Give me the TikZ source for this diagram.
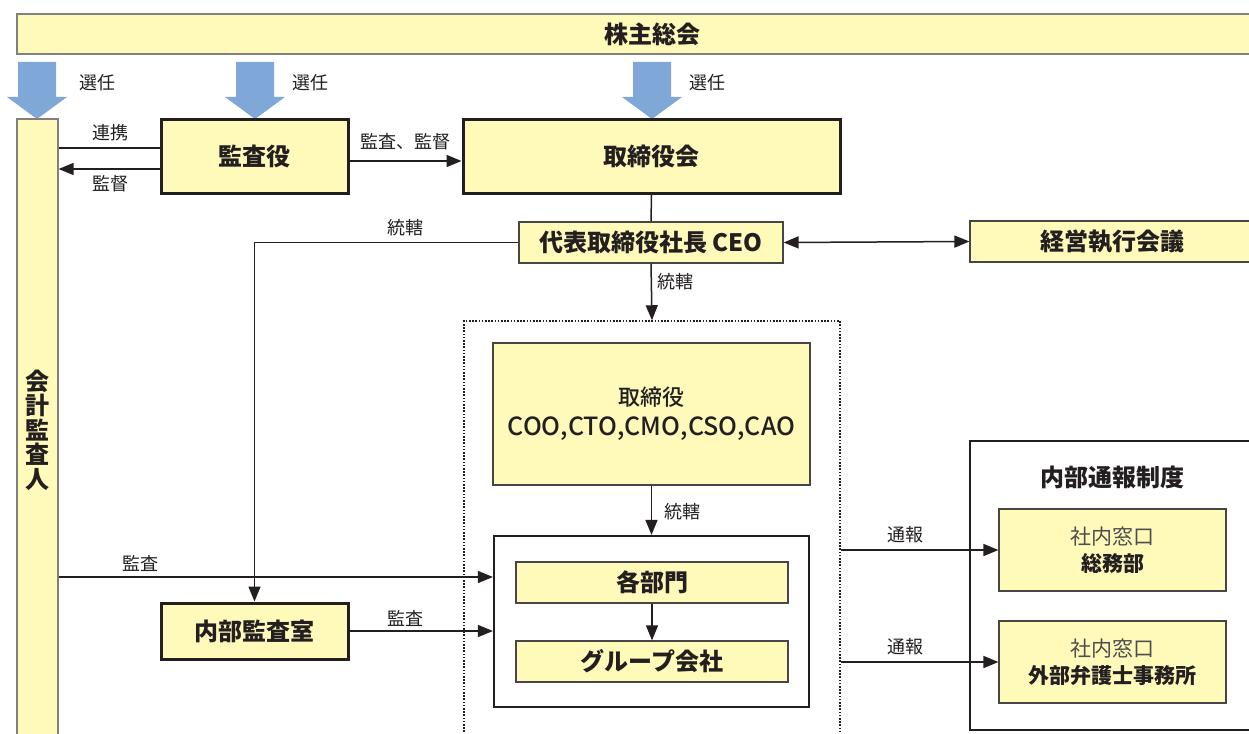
\documentclass[tikz,border=0pt]{standalone}
\usepackage{fontspec}
\setmainfont{Noto Sans CJK JP}
\newfontfamily\medfont{Noto Sans CJK JP}[UprightFont={* Medium}]
\usetikzlibrary{arrows.meta,calc}
\definecolor{yel}{RGB}{255,249,186}
\definecolor{blu}{RGB}{127,168,216}
\definecolor{bgray}{RGB}{70,70,70}
\definecolor{ink}{RGB}{35,31,32}
\tikzset{
  ybox/.style={draw=bgray, fill=yel, line width=1.2pt, inner sep=0pt, text=ink},
  thickbox/.style={ybox, draw=ink, line width=3pt},
  ttl/.style={font=\fontsize{24}{28}\selectfont\bfseries},
  lbl/.style={font=\fontsize{18}{20}\selectfont, text=ink, inner sep=0pt},
  arr/.style={-{Triangle[length=15pt,width=12pt]}, line width=1.5pt, draw=ink},
  dbl/.style={{Triangle[length=15pt,width=12pt]}-{Triangle[length=15pt,width=12pt]}, line width=1.5pt, draw=ink},
  ln/.style={line width=1.5pt, draw=ink},
  blockarrow/.style={fill=blu, draw=none}
}
\begin{document}
\begin{tikzpicture}[x=1pt,y=-1pt]
\useasboundingbox (0,0) rectangle (1249,733);
\clip (0,0) rectangle (1249,733);
\fill[white] (0,0) rectangle (1249,733);

% top bar
\node[ybox, draw=gray, minimum width=1270pt, minimum height=40pt, ttl] (kabu) at (652,34) {株主総会};

% blue arrows
\foreach \cx in {37,255,652}{
  \fill[blockarrow] (\cx-19,62) -- (\cx+19,62) -- (\cx+19,97) -- (\cx+30,97) -- (\cx,119) -- (\cx-30,97) -- (\cx-19,97) -- cycle;
}
\node[lbl] (s1) at (97,83) {選任};
\node[lbl] (s2) at (310,83) {選任};
\node[lbl] (s3) at (707,83) {選任};

% auditor bar
\node[ybox, draw=gray, minimum width=41pt, minimum height=641pt] (aud) at (37.5,439.5) {};
\node[align=center, text=ink, font=\fontsize{24}{24.5}\selectfont\bfseries] (audt) at (37.5,430) {会\\計\\監\\査\\人};

% boxes
\node[thickbox, minimum width=187pt, minimum height=73pt, ttl] (kan) at (254.5,156.5) {監査役};
\node[thickbox, minimum width=377pt, minimum height=73pt, ttl] (tori) at (651.5,156.5) {取締役会};
\node[ybox, minimum width=264pt, minimum height=41pt, ttl] (ceo) at (651,242.5) {代表取締役社長 CEO};
\node[ybox, minimum width=284pt, minimum height=41pt, ttl] (keiei) at (1112,241.5) {経営執行会議};

\node[draw=ink, line width=1.5pt, dash pattern=on 1.6pt off 1.6pt, minimum width=376pt, minimum height=429pt, inner sep=0pt] (dot) at (652,535.5) {};
\node[ybox, minimum width=317pt, minimum height=142pt, align=center, font=\fontsize{22}{30}\selectfont\medfont] (coo) at (651.5,414) {取締役\\{\fontsize{25}{30}\selectfont COO,CTO,CMO,CSO,CAO}};
\node[draw=ink, line width=2.2pt, fill=white, minimum width=315pt, minimum height=171pt, inner sep=0pt] (outer) at (651.5,621.5) {};
\node[ybox, minimum width=272pt, minimum height=41pt, ttl] (kaku) at (652,582.5) {各部門};
\node[ybox, minimum width=272pt, minimum height=41pt, ttl] (grp) at (652,661.5) {グループ会社};
\node[thickbox, minimum width=187pt, minimum height=56pt, ttl] (naibu) at (254.5,631) {内部監査室};

\node[draw=ink, line width=2pt, fill=white, minimum width=290pt, minimum height=289pt, inner sep=0pt] (tsuho) at (1115,585.5) {};
\node[ttl, text=ink] (tsuhot) at (1112,477) {内部通報制度};
\node[ybox, minimum width=227pt, minimum height=82pt, align=center, font=\fontsize{21}{27}\selectfont] (soumu) at (1112.5,550) {{\color{ink!80}社内窓口}\\\textbf{総務部}};
\node[ybox, minimum width=227pt, minimum height=82pt, align=center, font=\fontsize{21}{27}\selectfont] (gaibu) at (1112.5,662) {{\color{ink!80}社内窓口}\\\textbf{外部弁護士事務所}};

% connectors
\draw[ln] (kan.west |- 0,148) -- (aud.east |- 0,148);
\draw[arr] (kan.west |- 0,169) -- (aud.east |- 0,169);
\node[lbl] (l1) at (110,133) {連携};
\node[lbl] (l2) at (110,184) {監督};
\draw[arr] (kan.east |- 0,161) -- (tori.west |- 0,161);
\node[lbl] (l3) at (405,142) {監査、監督};
\draw[ln] (tori.south) -- (ceo.north);
\draw[dbl] (ceo.east) -- (keiei.west);
\draw[arr] (ceo.west) -| (naibu.north);
\node[lbl] (l4) at (405,228) {統轄};
\draw[arr] (ceo.south) -- (dot.north);
\node[lbl] (l5) at (675,282) {統轄};
\draw[arr] (coo.south) -- (outer.north);
\node[lbl] (l6) at (682,512) {統轄};
\draw[arr] (kaku.south) -- (grp.north);
\draw[arr] (aud.east |- 0,577) -- (outer.west |- 0,577);
\node[lbl] (l7) at (140,563) {監査};
\draw[arr] (naibu.east) -- (outer.west |- naibu.east);
\node[lbl] (l8) at (405,618) {監査};
\draw[arr] (dot.east |- soumu.west) -- (soumu.west);
\node[lbl] (l9) at (905,535) {通報};
\draw[arr] (dot.east |- gaibu.west) -- (gaibu.west);
\node[lbl] (l10) at (905,647) {通報};
\end{tikzpicture}
\end{document}
